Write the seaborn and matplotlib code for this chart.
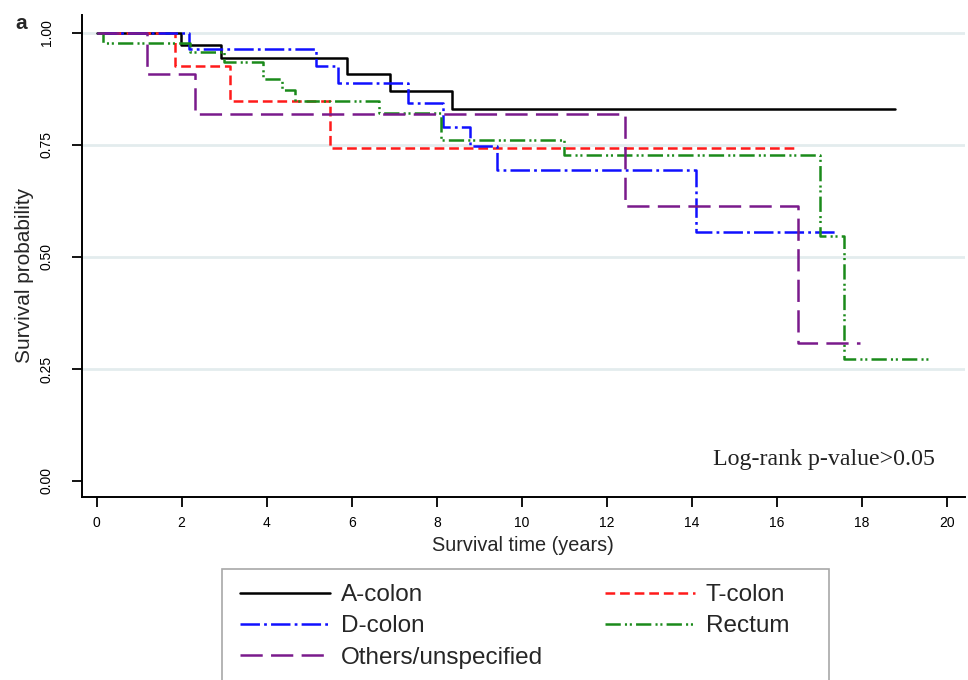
import pandas as pd
import matplotlib
matplotlib.use('Agg')
import matplotlib.pyplot as plt
from matplotlib.patches import Rectangle
import seaborn as sns

# Kaplan-Meier step values (time in years, survival probability)
groups = ['A-colon', 'T-colon', 'D-colon', 'Rectum', 'Others/unspecified']

a_time = [0, 1.99, 2.93, 5.88, 6.9, 8.35, 18.77]
a_surv = [1.0, 0.972, 0.943, 0.908, 0.871, 0.830, 0.830]

t_time = [0, 1.85, 3.14, 5.49, 16.5]
t_surv = [1.0, 0.925, 0.848, 0.744, 0.744]

d_time = [0, 2.18, 5.16, 5.67, 7.33, 8.15, 8.77, 9.41, 14.1, 17.36]
d_surv = [1.0, 0.963, 0.925, 0.888, 0.843, 0.791, 0.748, 0.694, 0.556, 0.556]

r_time = [0, 0.16, 2.2, 3.0, 3.92, 4.35, 4.67, 6.65, 8.1, 11.0, 17.0, 17.58, 19.56]
r_surv = [1.0, 0.978, 0.957, 0.935, 0.896, 0.872, 0.847, 0.821, 0.761, 0.728, 0.547, 0.272, 0.272]

o_time = [0, 1.18, 2.32, 12.43, 16.5, 17.95]
o_surv = [1.0, 0.909, 0.818, 0.614, 0.307, 0.307]

x_ticks = [0, 2, 4, 6, 8, 10, 12, 14, 16, 18, 20]
y_ticks = [0.0, 0.25, 0.5, 0.75, 1.0]
y_tick_labels = ['0.00', '0.25', '0.50', '0.75', '1.00']

frames = []
for name, t, s in zip(groups, [a_time, t_time, d_time, r_time, o_time],
                      [a_surv, t_surv, d_surv, r_surv, o_surv]):
    frames.append(pd.DataFrame({'time': t, 'surv': s, 'group': name}))
df = pd.concat(frames, ignore_index=True)

palette = {'A-colon': '#000000', 'T-colon': '#ff1a1a', 'D-colon': '#1010ff',
           'Rectum': '#1a8a1a', 'Others/unspecified': '#7a1a8c'}
dashes = {'A-colon': '', 'T-colon': (7, 3.5), 'D-colon': (14, 3, 2, 3),
          'Rectum': (11, 3, 1.5, 2, 1.5, 3), 'Others/unspecified': (16, 6)}

sns.set_style('white')
plt.rcParams['font.family'] = ['Liberation Sans', 'DejaVu Sans']
plt.rcParams['lines.scale_dashes'] = False

fig = plt.figure(figsize=(9.68, 6.8), dpi=100)
ax = fig.add_axes([0.0844, 0.2696, 0.9126, 0.7084])

sns.lineplot(data=df, x='time', y='surv', hue='group', style='group',
             hue_order=groups, style_order=groups, palette=palette, dashes=dashes,
             drawstyle='steps-post', estimator=None, linewidth=1.8, legend=False, ax=ax)

ax.set_xlim(-0.348, 20.42)
ax.set_ylim(-0.035, 1.04)
ax.set_xticks(x_ticks)
ax.set_yticks(y_ticks)
ax.set_yticklabels(y_tick_labels, rotation=90, va='center')
ax.tick_params(axis='both', direction='out', length=7, width=1.3, labelsize=10,
               colors='black', left=True, bottom=True)
ax.tick_params(axis='y', pad=13)
ax.tick_params(axis='x', pad=7)

for side in ['top', 'right']:
    ax.spines[side].set_visible(False)
for side in ['left', 'bottom']:
    ax.spines[side].set_color('black')
    ax.spines[side].set_linewidth(1.4)

ax.yaxis.grid(True, color='#e3ecee', linewidth=2)
ax.xaxis.grid(False)
ax.get_ygridlines()[0].set_visible(False)
ax.set_axisbelow(True)

ax.set_xlabel('Survival time (years)', fontsize=14.3)
ax.set_ylabel('Survival probability', fontsize=15)
ax.xaxis.set_label_coords(0.5, -0.082)
ax.yaxis.set_label_coords(-0.054, 0.46)

ax.text(0.966, 0.055, 'Log-rank p-value>0.05', transform=ax.transAxes, ha='right',
        va='bottom', fontsize=17.2, family=['Liberation Serif', 'DejaVu Serif'], color='#222222')

fig.text(0.016, 0.965, 'a', fontsize=15, fontweight='bold', ha='left', va='center')

# legend frame drawn by hand so it runs off the bottom edge like the original
fig.patches.append(Rectangle((222 / 968, -0.02), 607 / 968, (680 - 569) / 680 + 0.02,
                             transform=fig.transFigure, facecolor='white',
                             edgecolor='#a8a8a8', linewidth=1.2, zorder=0))

lines = ax.get_lines()
order = [0, 2, 4, 1, 3]
leg = fig.legend([lines[i] for i in order], [groups[i] for i in order], ncol=2,
                 loc='upper left', bbox_to_anchor=(240 / 968, 1 - 584 / 680),
                 borderaxespad=0, borderpad=0, frameon=False,
                 fontsize=17.5, handlelength=3.7, handletextpad=0.45, columnspacing=2.55,
                 labelspacing=0.38)

fig.savefig('out.png', dpi=100)
